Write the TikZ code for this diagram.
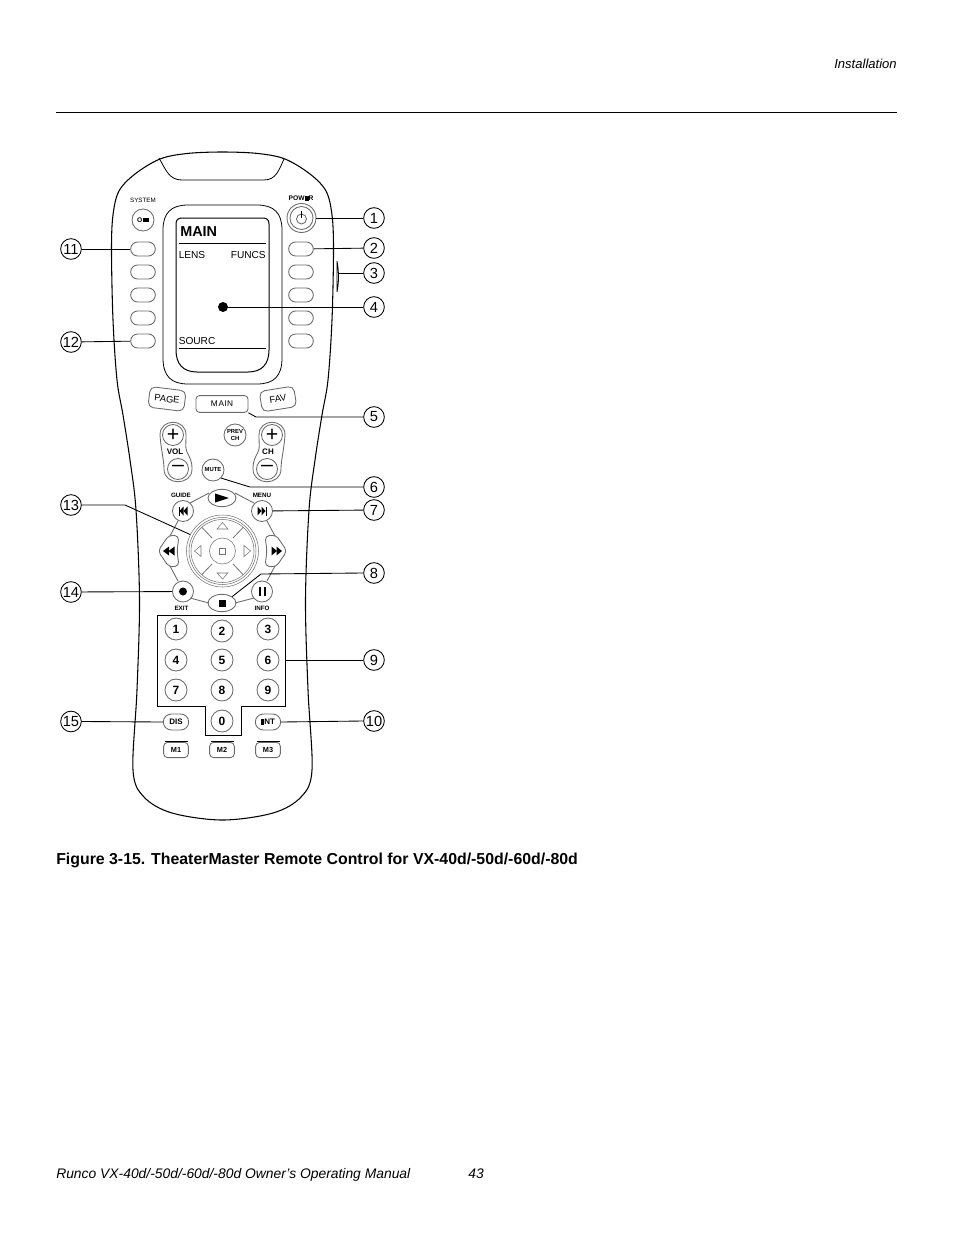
\documentclass[tikz,border=0pt]{standalone}
\usepackage{fontspec}
\setmainfont{Liberation Sans}
\usetikzlibrary{shapes.misc,shapes.geometric,calc}
\tikzset{
  x=0.75pt,y=-0.75pt,
  outl/.style={draw=black,line width=0.6pt},
  ldr/.style={draw=black,line width=0.65pt},
  gbtn/.style={draw=black!58,line width=0.65pt},
  thin ring/.style={draw=black!55,line width=0.4pt},
  call/.style={circle,draw=black,line width=0.65pt,fill=white,minimum size=15.5pt,inner sep=0pt,font=\fontsize{11}{12}\selectfont},
  softkey/.style={rounded rectangle,gbtn,minimum width=18.5pt,minimum height=10.5pt,inner sep=0pt},
  roundkey/.style={circle,gbtn,minimum size=#1*0.75pt,inner sep=0pt,align=center},
  numkey/.style={circle,gbtn,minimum size=16.5pt,inner sep=0pt,font=\fontsize{9}{10}\selectfont\bfseries},
  ovalkey/.style={rounded rectangle,gbtn,minimum width=19pt,minimum height=12pt,inner sep=0pt,font=\fontsize{6}{7}\selectfont\bfseries},
  mkey/.style={rectangle,rounded corners=3pt,gbtn,minimum width=18.5pt,minimum height=11.5pt,inner sep=0pt,font=\fontsize{5.5}{6}\selectfont\bfseries},
  tinytext/.style={inner sep=0pt,font=\fontsize{4.7}{5}\selectfont},
  boldtiny/.style={inner sep=0pt,font=\fontsize{4.7}{5}\selectfont\bfseries},
  scrtext/.style={inner sep=0pt,font=\fontsize{7.6}{8}\selectfont},
  wide/.style={rounded corners=4pt,gbtn,inner sep=0pt,font=\fontsize{7}{8}\selectfont},
  pagetext/.style={inner sep=0pt,font=\fontsize{10.4}{12}\selectfont\itshape},
}
\begin{document}
\begin{tikzpicture}
\useasboundingbox[fill=white] (0,0) rectangle (954,1235);
% page furniture
\node[pagetext,anchor=base east,font=\fontsize{9.8}{12}\selectfont\itshape] (hdr) at (897,68) {Installation};
\coordinate (rl) at (56,112); \coordinate (rr) at (897,112);
\draw[line width=0.65pt] (rl) -- (rr);
\node[inner sep=0pt,anchor=base west,font=\fontsize{11.9}{13}\selectfont\bfseries] (cap) at (56,864) {Figure 3-15. TheaterMaster Remote Control for VX-40d/-50d/-60d/-80d};
\node[pagetext,anchor=base west] (ft) at (56,1178) {Runco VX-40d/-50d/-60d/-80d Owner’s Operating Manual};
\node[pagetext,anchor=base] (pg) at (476,1178) {43};
% body
\draw[outl,line width=0.8pt] plot[smooth cycle,tension=0.55] coordinates {
 (222.5,152)(258,153.5)(285,159)(310,174)(326,191)(332,215)(333.5,250)(332,320)(328,380)(322,415)(315,460)(309,510)(305.5,600)(308,690)(312,770)(301,797)(273,813)(222.5,820)
 (172,813)(144,797)(133,770)(137,690)(139.5,600)(136,510)(130,460)(123,415)(117,380)(113,320)(111.5,250)(113,215)(119,191)(135,174)(160,159)(187,153.5)};
% notch
\draw[outl] (159,158) .. controls (166,170) and (169,180) .. (182,180) -- (264,180) .. controls (276,180) and (279,170) .. (284,159);
% side button
\draw[outl] (337,261) .. controls (339,272) and (339,282) .. (337,292) -- (337,261);
\coordinate (side) at (338.5,273);
% screen
\draw[outl] (188,205) -- (257,205) .. controls (274,205) and (282,213) .. (282,230) -- (282,358) .. controls (282,376) and (274,384) .. (257,384) -- (188,384) .. controls (171,384) and (163,376) .. (163,358) -- (163,230) .. controls (163,213) and (171,205) .. (188,205) -- cycle;
\draw[outl,line width=0.75pt] (182,218) -- (263,218) .. controls (267,218) and (269,220) .. (269,224) -- (269,350) .. controls (269,364) and (262,372) .. (248,372) -- (197,372) .. controls (183,372) and (176,364) .. (176,350) -- (176,224) .. controls (176,220) and (178,218) .. (182,218) -- cycle;
\node[inner sep=0pt,anchor=base west,font=\fontsize{10.8}{12}\selectfont\bfseries] (mt) at (180,236) {MAIN};
\draw[line width=0.6pt] (179,243) -- (266,243);
\draw[line width=0.6pt] (179,348) -- (266,348);
\node[scrtext,anchor=base west] (lens) at (178.5,258) {LENS};
\node[scrtext,anchor=base east] (funcs) at (266,258) {FUNCS};
\node[scrtext,anchor=base west] (sourc) at (178.5,344) {SOURC};
\node[circle,fill=black,minimum size=7.5pt,inner sep=0pt] (dot) at (223,307) {};
% soft keys
\foreach \n/\y in {a/249,b/272,c/295,d/318,e/341}{
  \node[softkey] (l\n) at (143,\y) {};
  \node[softkey] (r\n) at (301,\y) {};
}
% system, power
\node[tinytext] (sys) at (143,200.5) {SYSTEM};
\node[roundkey=22,font=\fontsize{5}{6}\selectfont\bfseries] (off) at (143,220) {O\kern0.2pt\rule{4.6pt}{3.2pt}};
\node[boldtiny,font=\fontsize{5}{6}\selectfont\bfseries] (pw) at (301,198.5) {POW\rule{3pt}{3.4pt}R};
\node[roundkey=29] (pwr) at (301.5,218) {};
\node[roundkey=23] (pwri) at (301.5,218) {};
\draw[gbtn] (301.5,219) circle[radius=5];
\draw[line width=0.8pt] (301.5,211) -- (301.5,218);
% page, main, fav
\node[wide,minimum width=27pt,minimum height=15.5pt,rotate=-7] (pagek) at (167,399) {PAGE};
\node[wide,rounded corners=2.5pt,minimum width=39pt,minimum height=12.5pt,font=\fontsize{6.2}{7}\selectfont] (maink) at (222,404) {M\kern0.6pt A\kern0.3pt I\kern0.3pt N};
\node[wide,minimum width=26pt,minimum height=15.5pt,rotate=9] (fav) at (278,399) {FAV};
% vol ch
\draw[gbtn] (160,435) .. controls (160,418) and (186,418) .. (186,435) .. controls (186,446) and (185,447) .. (187,452) .. controls (190,458) and (192,461) .. (192,469) .. controls (192,486) and (164,486) .. (164,469) .. controls (164,460) and (161,450) .. (160,435) -- cycle;
\draw[gbtn] (285,435) .. controls (285,418) and (259,418) .. (259,435) .. controls (259,446) and (260,447) .. (258,452) .. controls (255,458) and (253,461) .. (253,469) .. controls (253,486) and (281,486) .. (281,469) .. controls (281,460) and (284,450) .. (285,435) -- cycle;
\node[roundkey=21,font=\fontsize{16}{16}\selectfont] (vp) at (173,435) {+};
\node[roundkey=21,font=\fontsize{16}{16}\selectfont] (vm) at (178,469) {\raisebox{0.5pt}{–}};
\node[roundkey=21,font=\fontsize{16}{16}\selectfont] (cp) at (272,435) {+};
\node[roundkey=21,font=\fontsize{16}{16}\selectfont] (cm) at (267,469) {\raisebox{0.5pt}{–}};
\node[inner sep=0pt,font=\fontsize{6}{7}\selectfont\bfseries] (vol) at (175,452) {VOL};
\node[inner sep=0pt,font=\fontsize{6}{7}\selectfont\bfseries] (chl) at (268,452) {CH};
\node[roundkey=22,font=\fontsize{4.4}{4.6}\selectfont\bfseries] (prev) at (235,435) {PREV\\CH};
\node[roundkey=22,font=\fontsize{4.4}{5}\selectfont\bfseries] (mute) at (213,470) {MUTE};
% transport ring links
\draw[gbtn] (190,503) -- (209,493);
\draw[gbtn] (254,503) -- (235,493);
\draw[gbtn] (178,521) -- (170,536);
\draw[gbtn] (267,521) -- (275,536);
\draw[gbtn] (178,581) -- (170,566);
\draw[gbtn] (267,581) -- (275,566);
\draw[gbtn] (190,598) -- (209,603);
\draw[gbtn] (254,598) -- (235,603);
% transport keys
\node[boldtiny] (guide) at (181,495) {GUIDE};
\node[boldtiny] (menu) at (262,495) {MENU};
\node[boldtiny] (exit) at (181.5,608) {EXIT};
\node[boldtiny] (info) at (262,608) {INFO};
\node[roundkey=21] (gk) at (183,511) {};
\node[roundkey=21] (mk) at (262,511) {};
\node[roundkey=21] (rec) at (183,591.5) {};
\node[roundkey=21] (pause) at (262,591.5) {};
\node[ellipse,gbtn,minimum width=21pt,minimum height=13pt,inner sep=0pt] (play) at (222,498) {};
\node[ellipse,gbtn,minimum width=21pt,minimum height=13pt,inner sep=0pt] (stop) at (222,603) {};
\fill (215,493.5) -- (229,498) -- (215,502.5) -- cycle;
\fill (178.5,506.5) rectangle (180,515.5);
\fill (187.5,506.5) -- (187.5,515.5) -- (183.5,511) -- cycle;
\fill (183.5,506.5) -- (183.5,515.5) -- (179.5,511) -- cycle;
\fill (265.5,506.5) rectangle (267,515.5);
\fill (257.5,506.5) -- (257.5,515.5) -- (261.5,511) -- cycle;
\fill (261.5,506.5) -- (261.5,515.5) -- (265.5,511) -- cycle;
\fill (rec) circle[radius=4];
\fill (259,587) rectangle (261,596);
\fill (263.5,587) rectangle (265.5,596);
\fill (218.5,599.5) rectangle (225.5,606.5);
% rew ff
\draw[gbtn,rounded corners=3pt] (158,551) -- (169,535) -- (179,536) -- (177,551) -- (179,566) -- (169,567) -- cycle;
\draw[gbtn,rounded corners=3pt] (287,551) -- (276,535) -- (265,536) -- (267,551) -- (265,566) -- (276,567) -- cycle;
\fill (163,551) -- (169,546.5) -- (169,555.5) -- cycle;
\fill (168.5,551) -- (174.5,546.5) -- (174.5,555.5) -- cycle;
\fill (282,551) -- (276.5,546.5) -- (276.5,555.5) -- cycle;
\fill (277,551) -- (271.5,546.5) -- (271.5,555.5) -- cycle;
% d-pad
\node[roundkey=72,thin ring] (ring) at (222.5,551) {};
\node[roundkey=67,thin ring] (ring2) at (222.5,551) {};
\node[roundkey=63,thin ring] (ring3) at (222.5,551) {};
\node[roundkey=26,thin ring] (ok) at (222.5,551) {};
\draw[thin ring] (219.5,548) rectangle (225.5,554);
\draw[thin ring] (222.5,522.5) -- (228,529) -- (217,529) -- cycle;
\draw[thin ring] (222.5,579) -- (228,573) -- (217,573) -- cycle;
\draw[thin ring] (194.5,551) -- (201,545.5) -- (201,556.5) -- cycle;
\draw[thin ring] (250.5,551) -- (244,545.5) -- (244,556.5) -- cycle;
\draw[thin ring,line width=0.6pt] (202,527.5) -- (212,538);
\draw[thin ring,line width=0.6pt] (243,527.5) -- (233,538);
\draw[thin ring,line width=0.6pt] (202,574.5) -- (212,564);
\draw[thin ring,line width=0.6pt] (243,574.5) -- (233,564);
% keypad
\draw[line width=0.75pt] (157,615) -- (285,615) -- (285,706) -- (241,706) -- (241,735) -- (205,735) -- (205,706) -- (157,706) -- cycle;
\coordinate (padr) at (285,660);
\foreach \t/\px/\py/\nm in {1/176/629/k1,2/222/631/k2,3/268/629/k3,4/176/660/k4,5/222/660/k5,6/268/660/k6,7/176/690/k7,8/222/690/k8,9/268/690/k9,0/222/721/k0}{
  \node[numkey] (\nm) at (\px,\py) {\t};
}
\node[ovalkey] (dis) at (176,722) {DIS};
\node[ovalkey] (ent) at (268,722) {\rule{2.6pt}{4.2pt}NT};
\foreach \n/\xx in {1/176,2/222,3/268}{
  \node[mkey] (m\n) at (\xx,750) {M\n};
  \draw[line width=0.6pt] (\xx-11.5,741) -- (\xx+11.5,741);
}
% callouts
\foreach \t/\y in {1/218,2/248,3/273,4/307,5/417,6/487,7/510,8/573,9/660,10/721}{
  \node[call] (c\t) at (374,\y) {\t};
}
\foreach \t/\y in {11/249,12/342,13/505,14/592,15/721.5}{
  \node[call] (c\t) at (71,\y) {\t};
}
% connectors
\draw[ldr] (c1) -- (pwr);
\draw[ldr] (c2) -- (ra);
\draw[ldr] (c3) -- (side);
\draw[ldr] (c4) -- (dot);
\draw[ldr] (c5.west) -- (256,417) -- (maink.south east);
\draw[ldr] (c6.west) -- (250,487) -- (mute.south east);
\draw[ldr] (c7) -- (mk);
\draw[ldr] (c8.west) -- (261,574) -- (stop.north east);
\draw[ldr] (c9) -- (padr);
\draw[ldr] (c10.west) -- (ent.east);
\draw[ldr] (c11) -- (la);
\draw[ldr] (c12) -- (le);
\draw[ldr] (c13.east) -- (125,505) -- (ring.153);
\draw[ldr] (c14) -- (rec);
\draw[ldr] (c15.east) -- (dis.west);
\end{tikzpicture}
\end{document}
